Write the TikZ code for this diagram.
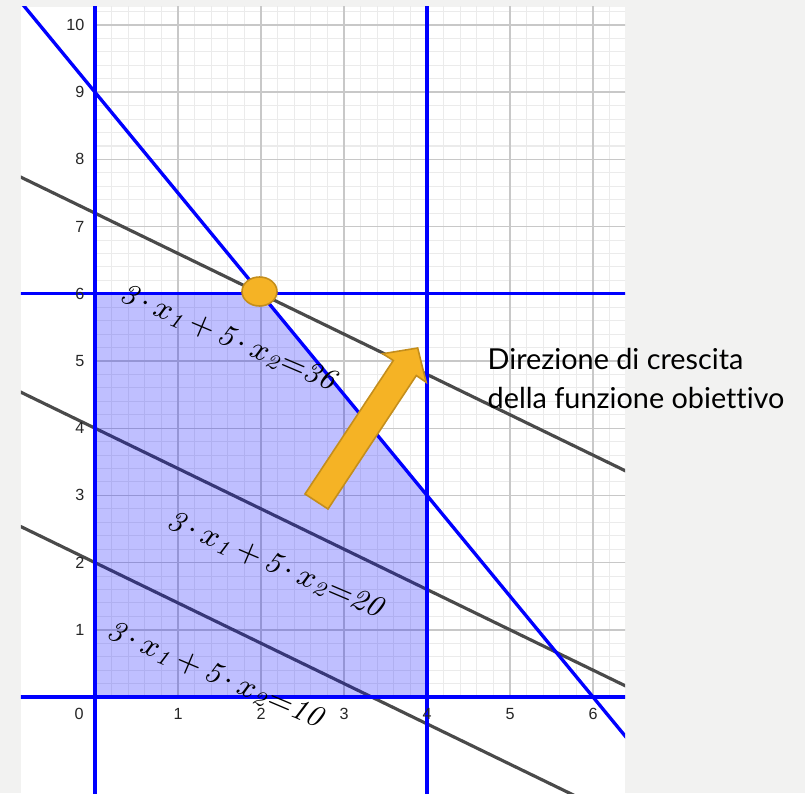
\documentclass[tikz,border=0pt]{standalone}
\usepackage{fontspec}
\newfontfamily\lato[Ligatures={NoCommon}]{Lato}
\newfontfamily\arialf{Liberation Sans}
\usetikzlibrary{shapes.geometric}
\definecolor{bgcol}{HTML}{F2F2F1}
\definecolor{majorgrid}{HTML}{C8C8C8}
\definecolor{minorgrid}{HTML}{EBEBEB}
\definecolor{lineblue}{HTML}{0000FF}
\definecolor{linegray}{HTML}{4A4A4A}
\definecolor{orfill}{HTML}{F5B325}
\definecolor{ordraw}{HTML}{C48E1C}
\newcommand\mdot{\mathbin{\cdotp}}
\newcommand\objeq[1]{$\medmuskip=3mu\relax\mathit{3}\mdot x_{\mathit{1}}+\mathit{5}\mdot x_{\mathit{2}}{=}\mathit{#1}$}
\tikzset{
  bluecon/.style={draw=lineblue, line width=0.95pt},
  objline/.style={draw=linegray, line width=0.9pt},
  ticklab/.style={font=\arialf\fontsize{4.6}{5}\selectfont, text=black!85, inner sep=0pt},
  eqlab/.style={font=\fontsize{8.65}{10}\selectfont, inner sep=0pt, anchor=base west, rotate=-23},
  dirtext/.style={font=\lato\fontsize{8.2}{9}\selectfont, inner sep=0pt, anchor=base west},
  orange/.style={fill=orfill, draw=ordraw, line width=0.45pt, line join=miter}
}
\begin{document}
\begin{tikzpicture}[x=0.83cm,y=0.672cm]
\fill[bgcol] (-0.95cm,-0.96cm) rectangle (7.10cm,6.97cm);
\useasboundingbox (-0.95cm,-0.96cm) rectangle (7.10cm,6.97cm);
\fill[white] (-0.74cm,-0.96cm) rectangle (5.30cm,6.90cm);
\begin{scope}
\clip (-0.74cm,-0.96cm) rectangle (5.30cm,6.90cm);
% grid in first quadrant
\draw[minorgrid, line width=0.3pt, step={(0.2,0.2)}] (0,0) grid (6.4,10.3);
\draw[majorgrid, line width=0.4pt, step={(1,1)}] (0,0) grid (6.4,10.3);
% objective function lines 3x1+5x2=k
\draw[objline] (-1,7.8) -- (7,3.0);
\draw[objline] (-1,4.6) -- (7,-0.2);
\draw[objline] (-1,2.6) -- (7,-2.2);
% feasible region
\fill[blue, opacity=0.25] (0,0) -- (4,0) -- (4,3) -- (2,6) -- (0,6) -- cycle;
% constraints
\draw[bluecon] (0,-2) -- (0,11);
\draw[bluecon] (-1,0) -- (7,0);
\draw[bluecon] (4,-2) -- (4,11);
\draw[bluecon] (-1,6) -- (7,6);
\draw[bluecon] (-1,10.5) -- (7,-1.5);
\end{scope}
% tick labels
\node[ticklab, anchor=center] (t0) at (-0.16cm,-0.17cm) {0};
\foreach \i in {1,...,6} { \node[ticklab, anchor=center] (tx\i) at (\i,0) [yshift=-0.17cm] {\i}; }
\foreach \j in {1,...,10} { \node[ticklab, anchor=east] (ty\j) at (-0.10cm,0) [yshift=\j*0.672cm] {\j}; }
% labels of objective lines
\node[eqlab] (l36) at (0.23cm,3.97cm) {\objeq{36}};
\node[eqlab] (l20) at (0.70cm,1.70cm) {\objeq{20}};
\node[eqlab] (l10) at (0.10cm,0.60cm) {\objeq{10}};
% optimum
\node[orange, ellipse, minimum width=0.35cm, minimum height=0.29cm, inner sep=0pt] (opt) at (1.645cm,4.055cm) {};
% direction arrow
\coordinate (tl) at (2.100cm,2.030cm);
\coordinate (tr) at (2.330cm,1.880cm);
\coordinate (rn) at (3.213cm,3.215cm);
\coordinate (rw) at (3.312cm,3.147cm);
\coordinate (tip) at (3.227cm,3.490cm);
\coordinate (lw) at (2.878cm,3.433cm);
\coordinate (ln) at (2.983cm,3.365cm);
\draw[orange] (tl) -- (tr) -- (rn) -- (rw) -- (tip) -- (lw) -- (ln) -- cycle;
% text
\node[dirtext] (d1) at (3.92cm,3.28cm) {Direzione di crescita};
\node[dirtext] (d2) at (3.92cm,2.89cm) {della funzione obiettivo};
\end{tikzpicture}
\end{document}
